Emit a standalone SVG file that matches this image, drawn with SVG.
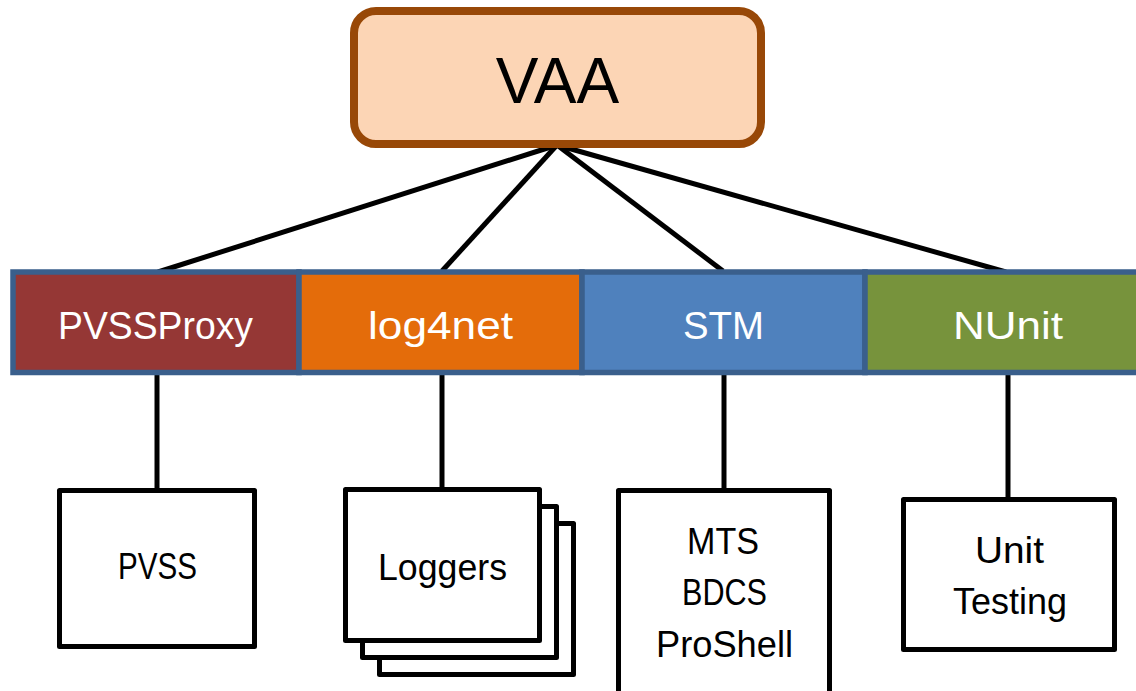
<svg xmlns="http://www.w3.org/2000/svg" width="1136" height="691" viewBox="0 0 1136 691">
<style>
.lbl{font-family:"Liberation Sans",Arial,sans-serif;text-anchor:middle}
.bar{stroke:#3A5F8C;stroke-width:5.5}
.box{fill:#FFFFFF;stroke:#000000;stroke-width:5;stroke-linejoin:round}
.wt{fill:#FFFFFF;font-size:38px}
.bt{fill:#000000;font-size:37.5px}
.con{stroke:#000000;stroke-width:5;fill:none;stroke-linecap:butt}
</style>
<rect width="1136" height="691" fill="#FFFFFF"/>
<g id="connectors">
<line class="con" x1="557" y1="145" x2="158" y2="272"/>
<line class="con" x1="557" y1="145" x2="442" y2="271"/>
<line class="con" x1="557" y1="145" x2="723" y2="271"/>
<line class="con" x1="557" y1="145" x2="1006" y2="272"/>
<line class="con" x1="157" y1="373" x2="157" y2="490"/>
<line class="con" x1="442" y1="373" x2="442" y2="489"/>
<line class="con" x1="724" y1="373" x2="724" y2="490"/>
<line class="con" x1="1008" y1="373" x2="1008" y2="499"/>
</g>
<g id="VAA">
<rect x="354" y="11" width="407" height="133" rx="22" ry="22" fill="#FCD5B5" stroke="#984807" stroke-width="8"/>
<text class="lbl" x="557.5" y="103" font-size="64" fill="#000000">VAA</text>
</g>
<g id="PVSSProxy">
<rect class="bar" x="13" y="272" width="286" height="100.5" fill="#953735"/>
<text class="lbl wt" x="155.5" y="339" textLength="195" lengthAdjust="spacingAndGlyphs">PVSSProxy</text>
</g>
<g id="log4net">
<rect class="bar" x="299" y="272" width="283" height="100.5" fill="#E46C0A"/>
<text class="lbl wt" x="440.5" y="339" textLength="145" lengthAdjust="spacingAndGlyphs">log4net</text>
</g>
<g id="STM">
<rect class="bar" x="582" y="272" width="283" height="100.5" fill="#4F81BD"/>
<text class="lbl wt" x="723.5" y="339" textLength="81" lengthAdjust="spacingAndGlyphs">STM</text>
</g>
<g id="NUnit">
<rect class="bar" x="865" y="272" width="285" height="100.5" fill="#77933C"/>
<text class="lbl wt" x="1008" y="339" textLength="110" lengthAdjust="spacingAndGlyphs">NUnit</text>
</g>
<g id="PVSS">
<rect class="box" x="59.5" y="490.5" width="195" height="156"/>
<text class="lbl bt" x="157.5" y="579" textLength="79" lengthAdjust="spacingAndGlyphs">PVSS</text>
</g>
<g id="Loggers">
<rect class="box" x="379.5" y="523.5" width="194" height="151"/>
<rect class="box" x="362.5" y="506.5" width="194" height="151"/>
<rect class="box" x="345.5" y="489.5" width="194" height="151"/>
<text class="lbl bt" x="442.5" y="580" textLength="129" lengthAdjust="spacingAndGlyphs">Loggers</text>
</g>
<g id="MTS">
<rect class="box" x="618.5" y="490.5" width="211" height="215"/>
<text class="lbl bt" x="723" y="554" textLength="72" lengthAdjust="spacingAndGlyphs">MTS</text>
<text class="lbl bt" x="724.5" y="605" textLength="85" lengthAdjust="spacingAndGlyphs">BDCS</text>
<text class="lbl bt" x="724.5" y="657" textLength="137" lengthAdjust="spacingAndGlyphs">ProShell</text>
</g>
<g id="UnitTesting">
<rect class="box" x="903.5" y="499.5" width="211" height="150"/>
<text class="lbl bt" x="1009.5" y="563" textLength="69" lengthAdjust="spacingAndGlyphs">Unit</text>
<text class="lbl bt" x="1010" y="614" textLength="114" lengthAdjust="spacingAndGlyphs">Testing</text>
</g>
</svg>
